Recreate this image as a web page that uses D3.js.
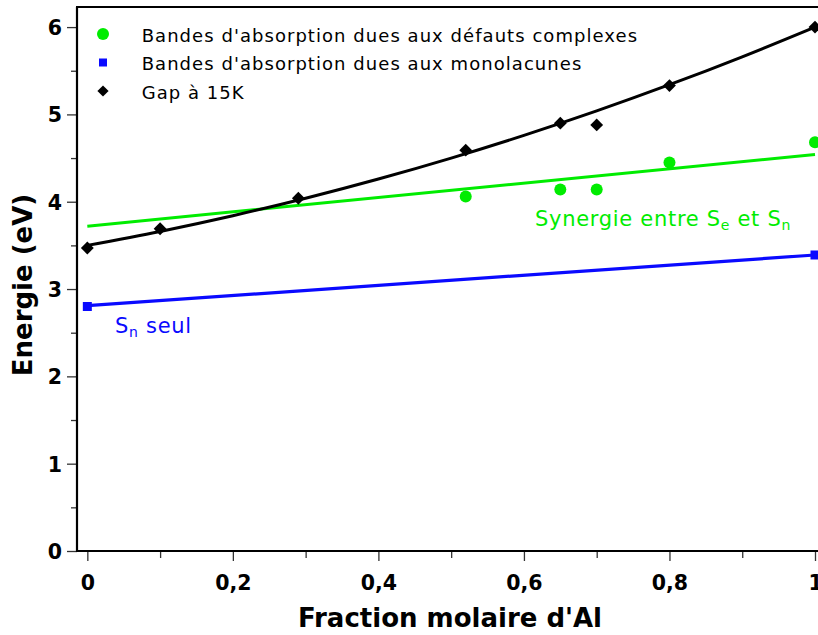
<!DOCTYPE html>
<html><head><meta charset="utf-8">
<script src="https://cdn.jsdelivr.net/npm/d3@7"></script>
<style>body{margin:0;background:#fff} svg{display:block}</style>
</head><body><svg id="c" width="818" height="635"></svg>
<script>
// ---- data ----
const gapX = [0, 0.1, 0.29, 0.52, 0.65, 0.70, 0.80, 1.0];
const gapY = [3.47, 3.69, 4.04, 4.59, 4.90, 4.88, 5.33, 6.00];
const complexX = [0.52, 0.65, 0.70, 0.80, 1.0];
const complexY = [4.06, 4.14, 4.14, 4.45, 4.68];
const monoX = [0, 1.0];
const monoY = [2.80, 3.39];
const gapFitX = [0, 0.1, 0.2, 0.3, 0.4, 0.5, 0.6, 0.7, 0.8, 0.9, 1.0];
const gapFitY = [3.50, 3.66, 3.84, 4.04, 4.26, 4.50, 4.76, 5.04, 5.34, 5.66, 6.00];
const complexFitX = [0, 1.0];
const complexFitY = [3.72, 4.54];
const monoFitX = [0, 1.0];
const monoFitY = [2.81, 3.39];
const xTicks = [0, 0.2, 0.4, 0.6, 0.8, 1.0];
const xTickLabels = ["0", "0,2", "0,4", "0,6", "0,8", "1"];
const xMinorTicks = [0.1, 0.3, 0.5, 0.7, 0.9];
const yTicks = [0, 1, 2, 3, 4, 5, 6];
const yTickLabels = ["0", "1", "2", "3", "4", "5", "6"];
const yMinorTicks = [0.5, 1.5, 2.5, 3.5, 4.5, 5.5];
const legendLabels = ["Bandes d'absorption dues aux défauts complexes",
                      "Bandes d'absorption dues aux monolacunes",
                      "Gap à 15K"];
const xTitle = "Fraction molaire d'Al";
const yTitle = "Energie (eV)";

// ---- styling ----
const GREEN = "#00ec00", BLUE = "#0a0aff", BLACK = "#000";
const FONT = "'DejaVu Sans', sans-serif";

const svg = d3.select("#c");
const W = 818, H = 635;
const L = 77, T = 7, B = 551;
const x = d3.scaleLinear().domain([-0.0142, 1]).range([L, 815]);
const y = d3.scaleLinear().domain([0, 6.23]).range([B, T]);

// ---- axes ----
const tickCol = "#333";
const gx = svg.append("g").attr("transform", `translate(0,${B})`);
gx.call(d3.axisBottom(x).tickValues(xTicks).tickSize(10).tickFormat((d,i)=>xTickLabels[i]));
const gxm = svg.append("g").attr("transform", `translate(0,${B})`);
gxm.call(d3.axisBottom(x).tickValues(xMinorTicks).tickSize(7).tickFormat(""));
const gy = svg.append("g").attr("transform", `translate(${L},0)`);
gy.call(d3.axisLeft(y).tickValues(yTicks).tickSize(10).tickFormat((d,i)=>yTickLabels[i]));
const gym = svg.append("g").attr("transform", `translate(${L},0)`);
gym.call(d3.axisLeft(y).tickValues(yMinorTicks).tickSize(6).tickFormat(""));
[gx, gxm, gy, gym].forEach(g => {
  g.select(".domain").remove();
  g.selectAll(".tick line").attr("stroke", tickCol).attr("stroke-width", 1.3);
  g.selectAll("text").attr("fill", "#000").style("font-family", FONT)
    .style("font-weight", "bold").style("font-size", "20.5px");
});
gx.selectAll("text").attr("y", 0).attr("dy", 0).attr("transform", "translate(0,39)");
gy.selectAll("text").attr("x", -15).attr("dy", "0.36em");

// spines
svg.append("line").attr("x1", L).attr("x2", L).attr("y1", T).attr("y2", B + 1)
  .attr("stroke", "#000").attr("stroke-width", 2.2);
svg.append("line").attr("x1", L - 1).attr("x2", W).attr("y1", B).attr("y2", B)
  .attr("stroke", "#000").attr("stroke-width", 2.2);
svg.append("line").attr("x1", L - 1).attr("x2", W).attr("y1", T).attr("y2", T)
  .attr("stroke", "#000").attr("stroke-width", 2.2);

// ---- fit lines ----
const line = d3.line().x(d => x(d[0])).y(d => y(d[1]));
svg.append("path").datum(d3.zip(complexFitX, complexFitY)).attr("d", line)
  .attr("fill", "none").attr("stroke", GREEN).attr("stroke-width", 3);
svg.append("path").datum(d3.zip(monoFitX, monoFitY)).attr("d", line)
  .attr("fill", "none").attr("stroke", BLUE).attr("stroke-width", 3.2);
svg.append("path").datum(d3.zip(gapFitX, gapFitY))
  .attr("d", line.curve(d3.curveCatmullRom))
  .attr("fill", "none").attr("stroke", BLACK).attr("stroke-width", 3);

// ---- markers ----
svg.append("g").selectAll("circle").data(d3.zip(complexX, complexY)).join("circle")
  .attr("cx", d => x(d[0])).attr("cy", d => y(d[1])).attr("r", 6).attr("fill", GREEN);
svg.append("g").selectAll("rect").data(d3.zip(monoX, monoY)).join("rect")
  .attr("x", d => x(d[0]) - 4.5).attr("y", d => y(d[1]) - 4.5)
  .attr("width", 9).attr("height", 9).attr("fill", BLUE);
const diamond = d3.symbol().type(d3.symbolDiamond2).size(105);
svg.append("g").selectAll("path").data(d3.zip(gapX, gapY)).join("path")
  .attr("transform", d => `translate(${x(d[0])},${y(d[1])})`)
  .attr("d", diamond).attr("fill", BLACK);

// ---- legend ----
const lg = svg.append("g").attr("transform", "translate(103,34)");
const rowH = 28.5;
lg.append("circle").attr("cx", 0).attr("cy", 0).attr("r", 6).attr("fill", GREEN);
lg.append("rect").attr("x", -4).attr("y", rowH - 4).attr("width", 8).attr("height", 8).attr("fill", BLUE);
lg.append("path").attr("transform", `translate(0,${2 * rowH})`)
  .attr("d", d3.symbol().type(d3.symbolDiamond2).size(80)).attr("fill", BLACK);
lg.selectAll("text").data(legendLabels).join("text")
  .attr("x", 38.7).attr("y", (d, i) => i * rowH + 7.8)
  .style("font-family", FONT).style("font-size", "18px").style("letter-spacing", "1.05px")
  .attr("fill", "#000").text(d => d);

// ---- annotations ----
const syn = svg.append("text").attr("x", 535).attr("y", 226)
  .style("font-family", FONT).style("font-size", "21px").style("letter-spacing", "0.7px")
  .attr("fill", GREEN);
syn.append("tspan").text("Synergie entre S");
syn.append("tspan").attr("dy", 4).style("font-size", "14px").text("e");
syn.append("tspan").attr("dy", -4).text(" et S");
syn.append("tspan").attr("dy", 4).style("font-size", "14px").text("n");

const sn = svg.append("text").attr("x", 115).attr("y", 333)
  .style("font-family", FONT).style("font-size", "21px").style("letter-spacing", "0.7px")
  .attr("fill", BLUE);
sn.append("tspan").text("S");
sn.append("tspan").attr("dy", 4).style("font-size", "14px").text("n");
sn.append("tspan").attr("dy", -4).text(" seul");

// ---- titles ----
svg.append("text").attr("x", 450).attr("y", 627).attr("text-anchor", "middle")
  .style("font-family", FONT).style("font-weight", "bold").style("font-size", "26px")
  .attr("fill", "#000").text(xTitle);
svg.append("text").attr("transform", "translate(32,285) rotate(-90)").attr("text-anchor", "middle")
  .style("font-family", FONT).style("font-weight", "bold").style("font-size", "26px")
  .attr("fill", "#000").text(yTitle);
</script>
</body></html>
